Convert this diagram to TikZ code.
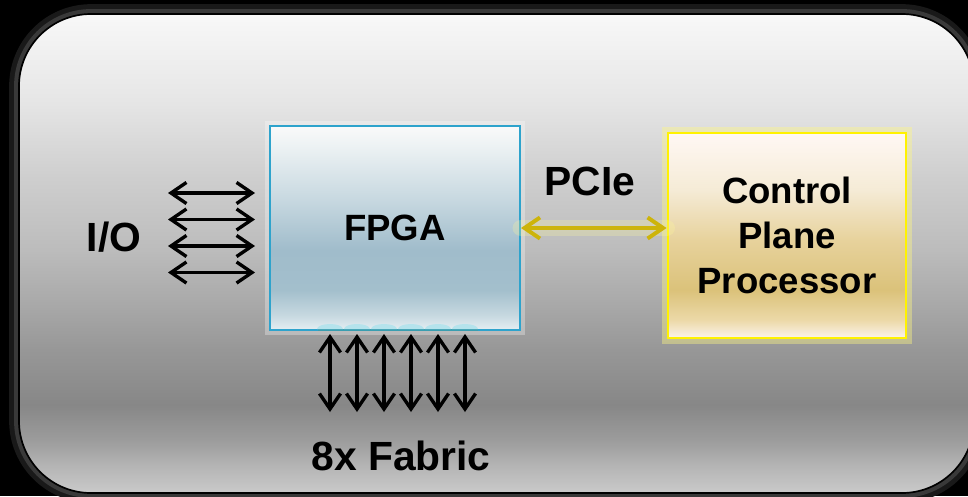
\documentclass[tikz,border=0pt]{standalone}
\usepackage{fontspec}
\setmainfont{Liberation Sans}
\usepackage{tikz}
\usetikzlibrary{arrows.meta}

\definecolor{pa}{HTML}{CACACA}
\definecolor{pb}{HTML}{B4B4B4}
\definecolor{pc}{HTML}{9C9C9C}
\definecolor{pd}{HTML}{878787}
\definecolor{pe}{HTML}{979797}
\definecolor{pf}{HTML}{AAAAAA}
\definecolor{pg}{HTML}{BCBCBC}
\definecolor{ph}{HTML}{CFCFCF}
\definecolor{pi}{HTML}{E6E6E6}
\definecolor{pj}{HTML}{F8F8F8}
\definecolor{fa}{HTML}{E4EEF2}
\definecolor{fb}{HTML}{C6D8E0}
\definecolor{fc}{HTML}{A3BFCC}
\definecolor{fd}{HTML}{A0BCCB}
\definecolor{fe}{HTML}{C7D8E0}
\definecolor{ff}{HTML}{EAF0F2}
\definecolor{fg}{HTML}{FAFAFA}
\definecolor{ca}{HTML}{FBF3EA}
\definecolor{cb}{HTML}{ECD9A8}
\definecolor{cc}{HTML}{DBC27A}
\definecolor{cd}{HTML}{E7D29C}
\definecolor{ce}{HTML}{F5EBD6}
\definecolor{cf}{HTML}{FFF8F4}
\definecolor{fpgaedge}{HTML}{2EA3CC}
\definecolor{cpuedge}{HTML}{FFF200}
\definecolor{pcieline}{HTML}{CDB40A}
\definecolor{pinfill}{HTML}{B5E3EC}
\definecolor{pinedge}{HTML}{3A9EB0}

\pgfdeclareverticalshading{panelshade}{100bp}{color(0bp)=(pa); color(25bp)=(pa); color(27.9bp)=(pb); color(30.5bp)=(pc); color(34.2bp)=(pd); color(39.9bp)=(pe); color(45.1bp)=(pf); color(50.4bp)=(pg); color(58.2bp)=(ph); color(66bp)=(pi); color(75bp)=(pj); color(100bp)=(pj)}
\pgfdeclareverticalshading{fpgashade}{100bp}{color(0bp)=(fa); color(25bp)=(fa); color(28.7bp)=(fb); color(34.8bp)=(fc); color(44.6bp)=(fd); color(56.9bp)=(fe); color(69.1bp)=(ff); color(75bp)=(fg); color(100bp)=(fg)}
\pgfdeclareverticalshading{cpushade}{100bp}{color(0bp)=(ca); color(25bp)=(ca); color(29.4bp)=(cb); color(36.7bp)=(cc); color(48.9bp)=(cd); color(61.1bp)=(ce); color(75bp)=(cf); color(100bp)=(cf)}

\begin{document}
\begin{tikzpicture}[x=0.025cm,y=-0.025cm,
	lbl/.style={font=\bfseries\fontsize{29}{34}\selectfont},
	boxtxt/.style={font=\bfseries\fontsize{26}{32}\selectfont, align=center},
	fpgabox/.style={boxtxt, draw=fpgaedge, line width=1.4pt, shading=fpgashade, minimum width=6.25cm, minimum height=5.1cm, preaction={draw=white, opacity=.3, line width=7pt}},
	cpubox/.style={boxtxt, draw=cpuedge, line width=2pt, shading=cpushade, minimum width=5.95cm, minimum height=5.125cm, preaction={draw=yellow!50!white, opacity=.4, line width=8pt}},
	bidi/.style={{Straight Barb[length=11pt,width=15pt]}-{Straight Barb[length=11pt,width=15pt]}, line width=2.4pt},
	pcie/.style={bidi, draw=pcieline, line width=2.8pt, preaction={draw=yellow!40!white, opacity=.25, line width=12pt, -, line cap=round}}]
					\fill[black] (0,0) rectangle (968,496);
					\useasboundingbox (0,0) rectangle (968,496);
					\draw[gray!20!black, line width=14pt, rounded corners=1.8cm] (19,14) rectangle (974,493);
					\draw[gray!45!black, line width=7pt, rounded corners=1.8cm] (19,14) rectangle (974,493);
					\shadedraw[shading=panelshade, draw=black, line width=1.2pt, rounded corners=1.8cm] (19,14) rectangle (974,493);
					\node[fpgabox] (fpga) at (395,228) {FPGA};
					\node[cpubox] (cpu) at (787,235.5) {Control\\Plane\\Processor};
					\node[lbl] (io) at (114,237) {I/O};
					\node[lbl] (pcielbl) at (590,181) {PCIe};
					\node[lbl] (fabric) at (401,456) {8x Fabric};
					\foreach \i/\y in {1/193,2/219.5,3/246,4/272.5} {
						\coordinate (iol\i) at (168,\y);
						\coordinate (ior\i) at (255,\y);
						\draw[bidi] (iol\i) -- (ior\i);
					}
					\draw[pinedge, line width=1.4pt] (318,330) -- (478,330);
					\foreach \i in {1,...,6} {
						\pgfmathsetmacro\fx{330+27*(\i-1)}
						\fill[pinfill] (\fx-13,329) arc[start angle=180, end angle=360, x radius=13, y radius=5] -- cycle;
						\coordinate (fabt\i) at (\fx,334);
						\coordinate (fabb\i) at (\fx,412);
						\draw[bidi] (fabt\i) -- (fabb\i);
					}
					\draw[pcie] (fpga.east) -- (fpga.east -| cpu.west);
				\end{tikzpicture}
\end{document}
